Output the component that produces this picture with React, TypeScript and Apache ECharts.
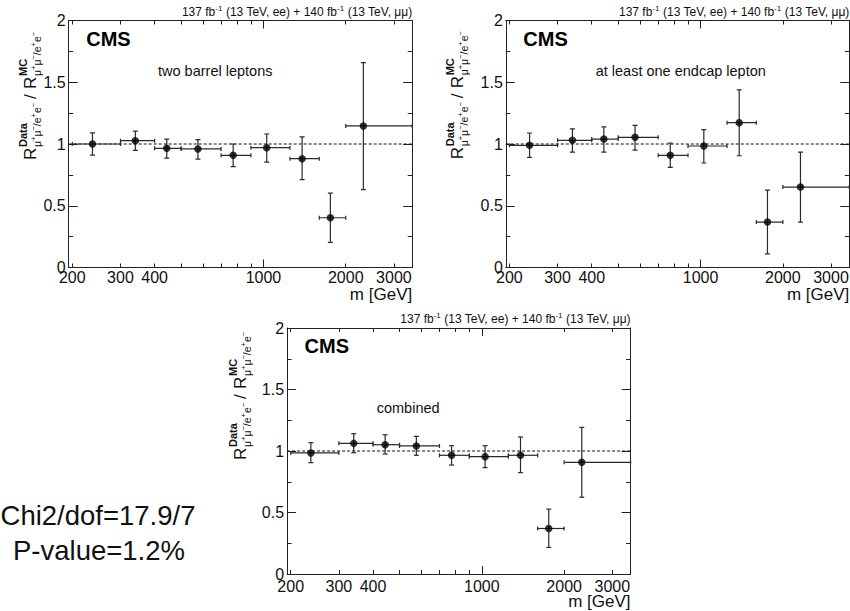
import React, { useEffect, useRef } from "react";
import * as echarts from "echarts";

// ---------- data ----------
const massPoints = [237, 340, 443, 576, 775, 1028, 1385, 1757, 2320];
const binLow = [200, 300, 400, 500, 700, 900, 1250, 1600, 2000];
const binHigh = [300, 400, 500, 700, 900, 1250, 1600, 2000, 3500];

const barrelRatio = [1.0, 1.027, 0.965, 0.96, 0.908, 0.97, 0.881, 0.403, 1.146];
const barrelHigh = [1.09, 1.105, 1.04, 1.035, 1.0, 1.081, 1.057, 0.603, 1.659];
const barrelLow = [0.91, 0.949, 0.886, 0.878, 0.816, 0.854, 0.711, 0.203, 0.63];

const endcapRatio = [0.989, 1.03, 1.04, 1.054, 0.908, 0.984, 1.173, 0.368, 0.651];
const endcapHigh = [1.089, 1.122, 1.138, 1.151, 1.008, 1.116, 1.438, 0.627, 0.935];
const endcapLow = [0.892, 0.935, 0.935, 0.951, 0.81, 0.846, 0.905, 0.111, 0.368];

const combinedRatio = [0.984, 1.062, 1.051, 1.041, 0.965, 0.954, 0.965, 0.37, 0.908];
const combinedHigh = [1.068, 1.141, 1.132, 1.119, 1.043, 1.043, 1.114, 0.527, 1.192];
const combinedLow = [0.905, 0.986, 0.976, 0.965, 0.886, 0.865, 0.824, 0.216, 0.624];

const xLabelValues = [200, 300, 400, 1000, 2000, 3000];
const xMinorTicks = [200, 300, 400, 500, 600, 700, 800, 900, 2000, 3000];
const xMajorTicks = [1000];
const X_MIN = 194;
const X_MAX = 3500;
const Y_MIN = 0;
const Y_MAX = 2;
const Y_STEP = 0.5;
const referenceLine = 1;

const panelLabels = ["two barrel leptons", "at least one endcap lepton", "combined"];
const fitSummary = ["Chi2/dof=17.9/7", "P-value=1.2%"];

// ---------- layout ----------
const FONT = "'Liberation Sans', Arial, Helvetica, sans-serif";
const AXIS_COLOR = "#222";
const panels = [
  { left: 68.7, top: 20.5, width: 343.5, height: 247, labelX: 158, labelY: 71, ytX: 36.7, ytY: 160, labelMargin: 2 },
  { left: 505.8, top: 20.5, width: 343.5, height: 247, labelX: 595.7, labelY: 71, ytX: 463.3, ytY: 159.3, labelMargin: 2 },
  { left: 287.1, top: 328, width: 343.5, height: 246, labelX: 376.7, labelY: 407.7, ytX: 246.7, ytY: 460, labelMargin: 4 },
];
const panelData = [
  { ratio: barrelRatio, high: barrelHigh, low: barrelLow },
  { ratio: endcapRatio, high: endcapHigh, low: endcapLow },
  { ratio: combinedRatio, high: combinedHigh, low: combinedLow },
];

const renderErrorBar = (params: any, api: any) => {
  const x = api.value(0);
  const y = api.value(1);
  const xl = api.value(2);
  const xh = api.value(3);
  const yl = api.value(4);
  const yh = api.value(5);
  const c = api.coord([x, y]);
  const pl = api.coord([xl, y]);
  const pr = api.coord([xh, y]);
  const pt = api.coord([x, yh]);
  const pb = api.coord([x, yl]);
  const st = { stroke: "#2a2a2a", lineWidth: 1.2 };
  const cw = 2.5;
  const ch = 2;
  const line = (x1: number, y1: number, x2: number, y2: number) => ({
    type: "line",
    shape: { x1, y1, x2, y2 },
    style: st,
  });
  return {
    type: "group",
    children: [
      line(pl[0], c[1], pr[0], c[1]),
      line(pl[0], c[1] - ch, pl[0], c[1] + ch),
      line(pr[0], c[1] - ch, pr[0], c[1] + ch),
      line(c[0], pt[1], c[0], pb[1]),
      line(c[0] - cw, pt[1], c[0] + cw, pt[1]),
      line(c[0] - cw, pb[1], c[0] + cw, pb[1]),
    ],
  };
};

function buildXAxes(gi: number, labelMargin: number) {
  const base = {
    gridIndex: gi,
    type: "log",
    logBase: 10,
    min: X_MIN,
    max: X_MAX,
    splitLine: { show: false },
    minorTick: { show: false },
    minorSplitLine: { show: false },
  };
  return [
    {
      ...base,
      position: "bottom",
      axisLine: { show: true, onZero: false, lineStyle: { color: AXIS_COLOR, width: 1 } },
      axisTick: { show: true, inside: true, length: 4, customValues: xMinorTicks, lineStyle: { color: AXIS_COLOR } },
      axisLabel: {
        show: true,
        customValues: xLabelValues,
        margin: labelMargin,
        color: "#111",
        fontSize: 16,
        fontFamily: FONT,
        formatter: (v: number) => String(Math.round(v)),
      },
    },
    {
      ...base,
      position: "bottom",
      axisLine: { show: false, onZero: false },
      axisTick: { show: true, inside: true, length: 8, customValues: xMajorTicks, lineStyle: { color: AXIS_COLOR } },
      axisLabel: { show: false },
    },
    {
      ...base,
      position: "top",
      axisLine: { show: true, onZero: false, lineStyle: { color: AXIS_COLOR, width: 1 } },
      axisTick: { show: true, inside: true, length: 4, customValues: xMinorTicks, lineStyle: { color: AXIS_COLOR } },
      axisLabel: { show: false },
    },
    {
      ...base,
      position: "top",
      axisLine: { show: false, onZero: false },
      axisTick: { show: true, inside: true, length: 8, customValues: xMajorTicks, lineStyle: { color: AXIS_COLOR } },
      axisLabel: { show: false },
    },
  ];
}

function buildYAxes(gi: number) {
  const base = {
    gridIndex: gi,
    type: "value",
    min: Y_MIN,
    max: Y_MAX,
    interval: Y_STEP,
    splitLine: { show: false },
    axisLine: { show: true, onZero: false, lineStyle: { color: AXIS_COLOR, width: 1 } },
    axisTick: { show: true, inside: true, length: 9, lineStyle: { color: AXIS_COLOR } },
    minorTick: { show: true, splitNumber: 2, length: 4.5, lineStyle: { color: AXIS_COLOR } },
  };
  return [
    {
      ...base,
      position: "left",
      axisLabel: { show: true, margin: 3, color: "#111", fontSize: 16, fontFamily: FONT },
    },
    { ...base, position: "right", axisLabel: { show: false } },
  ];
}

function yTitle(px: number, py: number) {
  const t = (text: string, x: number, y: number, size: number, weight = "normal", rich?: any) => ({
    type: "text",
    x,
    y,
    style: {
      text,
      fontSize: size,
      fontWeight: weight,
      fontFamily: FONT,
      fill: "#111",
      align: "left",
      verticalAlign: "middle",
      lineHeight: size + 4,
      rich,
    },
  });
  const subRich = {
    p: { fontSize: 7.5, fontFamily: FONT, fill: "#111", verticalAlign: "top", lineHeight: 8 },
  };
  const sub = "μ{p|+}μ{p|−}/e{p|+}e{p|−}";
  return {
    type: "group",
    x: px,
    y: py,
    rotation: Math.PI / 2,
    children: [
      t("R", 0, -6, 17),
      t("Data", 13, -13.5, 11, "bold"),
      t(sub, 13, 0.5, 10.5, "normal", subRich),
      t("/", 61, -6, 17),
      t("R", 71, -6, 17),
      t("MC", 84, -13.5, 11, "bold"),
      t(sub, 84, 0.5, 10.5, "normal", subRich),
    ],
  };
}

export default function App() {
  const ref = useRef<HTMLDivElement>(null);

  useEffect(() => {
    if (!ref.current) return;
    const chart = echarts.init(ref.current, null, { renderer: "svg" });

    const xAxis: any[] = [];
    const yAxis: any[] = [];
    const series: any[] = [];
    const graphic: any[] = [];

    panels.forEach((p, gi) => {
      xAxis.push(...buildXAxes(gi, p.labelMargin));
      yAxis.push(...buildYAxes(gi));
      const d = panelData[gi];
      const xi = gi * 4;
      const yi = gi * 2;
      series.push({
        type: "line",
        xAxisIndex: xi,
        yAxisIndex: yi,
        data: [
          [X_MIN, referenceLine],
          [X_MAX, referenceLine],
        ],
        symbol: "none",
        silent: true,
        lineStyle: { color: "#111", width: 1, type: [3, 2] },
        z: 1,
      });
      series.push({
        type: "custom",
        xAxisIndex: xi,
        yAxisIndex: yi,
        clip: true,
        renderItem: renderErrorBar,
        encode: { x: 0, y: 1 },
        data: massPoints.map((m, i) => [m, d.ratio[i], binLow[i], binHigh[i], d.low[i], d.high[i]]),
        z: 2,
      });
      series.push({
        type: "scatter",
        xAxisIndex: xi,
        yAxisIndex: yi,
        symbol: "circle",
        symbolSize: 7.5,
        itemStyle: { color: "#000" },
        data: massPoints.map((m, i) => [m, d.ratio[i]]),
        z: 3,
      });

      const right = p.left + p.width;
      const bottom = p.top + p.height;
      graphic.push({
        type: "text",
        x: p.left + 17.5,
        y: p.top + 18,
        style: { text: "CMS", fontSize: 20, fontWeight: "bold", fontFamily: FONT, fill: "#000", align: "left", verticalAlign: "middle" },
      });
      graphic.push({
        type: "text",
        x: p.labelX,
        y: p.labelY,
        style: { text: panelLabels[gi], fontSize: 14.5, fontFamily: FONT, fill: "#111", align: "left", verticalAlign: "middle" },
      });
      graphic.push({
        type: "text",
        x: right,
        y: p.top - 9,
        style: {
          text: "137 fb{s|-1} (13 TeV, ee) + 140 fb{s|-1} (13 TeV, μμ)",
          fontSize: 12,
          fontFamily: FONT,
          fill: "#111",
          align: "right",
          verticalAlign: "middle",
          lineHeight: 15,
          rich: { s: { fontSize: 8, fontFamily: FONT, fill: "#111", verticalAlign: "top", lineHeight: 9 } },
        },
      });
      graphic.push({
        type: "text",
        x: right,
        y: bottom + 27,
        style: { text: "m [GeV]", fontSize: 17, fontFamily: FONT, fill: "#111", align: "right", verticalAlign: "middle" },
      });
      graphic.push(yTitle(p.ytX, p.ytY));
    });

    graphic.push({
      type: "text",
      x: 98,
      y: 515,
      style: { text: fitSummary[0], fontSize: 27.5, fontFamily: FONT, fill: "#111", align: "center", verticalAlign: "middle" },
    });
    graphic.push({
      type: "text",
      x: 99,
      y: 550,
      style: { text: fitSummary[1], fontSize: 27.5, fontFamily: FONT, fill: "#111", align: "center", verticalAlign: "middle" },
    });

    chart.setOption({
      animation: false,
      backgroundColor: "#fff",
      grid: panels.map((p) => ({
        left: p.left,
        top: p.top,
        width: p.width,
        height: p.height,
        containLabel: false,
        outerBoundsMode: "none",
      })),
      xAxis,
      yAxis,
      series,
      graphic,
    });

    return () => chart.dispose();
  }, []);

  return (
    <div
      ref={ref}
      style={{ position: "fixed", left: 0, top: 0, width: 850, height: 611, background: "#fff" }}
    />
  );
}
